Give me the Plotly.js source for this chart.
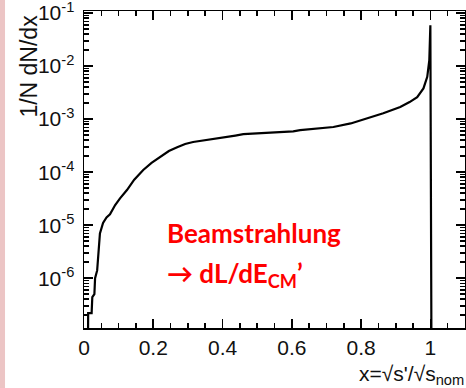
<!DOCTYPE html>
<html>
<head>
<meta charset="utf-8">
<script src="https://cdn.plot.ly/plotly-3.0.1.min.js"></script>
<style>
  html, body { margin: 0; padding: 0; background: #fff; }
  #chart { width: 466px; height: 388px; }
</style>
</head>
<body>
<div id="chart"></div>
<script>
// Luminosity spectrum x = sqrt(s')/sqrt(s_nom), normalised 1/N dN/dx
const xFrac = [0.010, 0.012, 0.022, 0.024, 0.030, 0.032, 0.038, 0.042, 0.046, 0.055,
               0.065, 0.075, 0.090, 0.104, 0.124, 0.145, 0.171, 0.195, 0.220, 0.245,
               0.269, 0.292, 0.315, 0.340, 0.364, 0.390, 0.413, 0.437, 0.460, 0.485,
               0.509, 0.555, 0.604, 0.624, 0.670, 0.720, 0.770, 0.818, 0.864, 0.913,
               0.940, 0.962, 0.980, 0.991, 0.997, 1.000, 1.004];
const dNdx = [1e-9, 2.2e-7, 2.2e-7, 4.4e-7, 5.0e-7, 1.0e-6, 1.4e-6, 3.5e-6, 7.0e-6, 1.1e-5,
              1.4e-5, 1.6e-5, 2.4e-5, 3.2e-5, 4.6e-5, 7.2e-5, 1.1e-4, 1.5e-4, 1.9e-4, 2.5e-4,
              2.95e-4, 3.4e-4, 3.7e-4, 3.9e-4, 4.2e-4, 4.4e-4, 4.6e-4, 4.9e-4, 5.2e-4, 5.3e-4,
              5.5e-4, 5.7e-4, 5.9e-4, 6.2e-4, 6.6e-4, 7.1e-4, 8.3e-4, 1.05e-3, 1.29e-3, 1.7e-3,
              2.1e-3, 2.6e-3, 3.8e-3, 6.3e-3, 1.3e-2, 5.9e-2, 1e-9];

// Tick positions and labels
const xTickVals = [0, 0.2, 0.4, 0.6, 0.8, 1];
const xTickText = ['0', '0.2', '0.4', '0.6', '0.8', '1'];
const xMinorVals = [0.05, 0.1, 0.15, 0.25, 0.3, 0.35, 0.45, 0.5, 0.55,
                    0.65, 0.7, 0.75, 0.85, 0.9, 0.95, 1.05];
const yTickVals = [1e-6, 1e-5, 1e-4, 1e-3, 1e-2, 1e-1];
const yTickText = ['10<sup>-6</sup>', '10<sup>-5</sup>', '10<sup>-4</sup>',
                   '10<sup>-3</sup>', '10<sup>-2</sup>', '10<sup>-1</sup>'];
// 2..9 within every decade
const yMinorVals = [];
for (const base of [1e-7, 1e-6, 1e-5, 1e-4, 1e-3, 1e-2]) {
  for (let m = 2; m <= 9; m++) yMinorVals.push(m * base);
}

const axisFont = { family: 'Liberation Sans, Arial, sans-serif', size: 21, color: '#111' };
const noteFont = { family: 'Lato, sans-serif', size: 26, color: '#ff0000' };

const trace = {
  x: xFrac,
  y: dNdx,
  type: 'scatter',
  mode: 'lines',
  line: { color: '#000', width: 2.2 },
  hoverinfo: 'skip'
};

const layout = {
  width: 466,
  height: 388,
  margin: { l: 84, r: 1, t: 11, b: 60 },
  paper_bgcolor: '#fff',
  plot_bgcolor: '#fff',
  showlegend: false,
  xaxis: {
    range: [0, 1.1],
    tickmode: 'array',
    tickvals: xTickVals,
    ticktext: xTickText,
    ticks: 'inside',
    ticklen: 9,
    tickwidth: 1.6,
    tickcolor: '#000',
    showline: true,
    linecolor: '#000',
    linewidth: 1.5,
    mirror: 'ticks',
    showgrid: false,
    zeroline: false,
    tickfont: axisFont,
    ticklabelstandoff: 0,
    minor: { tickmode: 'array', tickvals: xMinorVals, ticks: 'inside', ticklen: 5,
             tickwidth: 1.6, tickcolor: '#000', showgrid: false }
  },
  yaxis: {
    type: 'log',
    range: [-6.94, -0.96],
    tickmode: 'array',
    tickvals: yTickVals,
    ticktext: yTickText,
    ticks: 'inside',
    ticklen: 9,
    tickwidth: 1.6,
    tickcolor: '#000',
    showline: true,
    linecolor: '#000',
    linewidth: 1.5,
    mirror: 'ticks',
    showgrid: false,
    zeroline: false,
    tickfont: axisFont,
    ticklabeloverflow: 'allow',
    ticklabelstandoff: 4,
    minor: { tickmode: 'array', tickvals: yMinorVals, ticks: 'inside', ticklen: 5,
             tickwidth: 1.6, tickcolor: '#000', showgrid: false }
  },
  shapes: [
    { type: 'rect', xref: 'paper', yref: 'paper', x0: -0.2205, x1: -0.2073, y0: -0.25, y1: 1.1,
      fillcolor: '#ecc5c5', line: { width: 0 }, layer: 'below' }
  ],
  annotations: [
    { xref: 'paper', yref: 'paper', x: -0.143, y: 0.995, xanchor: 'center', yanchor: 'top',
      textangle: -90, showarrow: false, text: '1/N dN/dx',
      font: { family: 'Liberation Sans, Arial, sans-serif', size: 23, color: '#111' } },
    { xref: 'paper', yref: 'paper', x: 1.003, y: -0.148, xanchor: 'right', yanchor: 'middle',
      showarrow: false, text: "x=√s'/√s<sub>nom</sub>", font: axisFont },
    { xref: 'paper', yref: 'paper', x: 0.2126, y: 0.30, xanchor: 'left', yanchor: 'middle',
      showarrow: false, text: '<b>Beamstrahlung</b>', font: noteFont },
    { xref: 'paper', yref: 'paper', x: 0.2126, y: 0.17, xanchor: 'left', yanchor: 'middle',
      showarrow: false, text: '<b>→ dL/dE<sub>CM</sub>’</b>', font: noteFont }
  ]
};

Plotly.newPlot('chart', [trace], layout, { staticPlot: true, displayModeBar: false });
</script>
</body>
</html>
